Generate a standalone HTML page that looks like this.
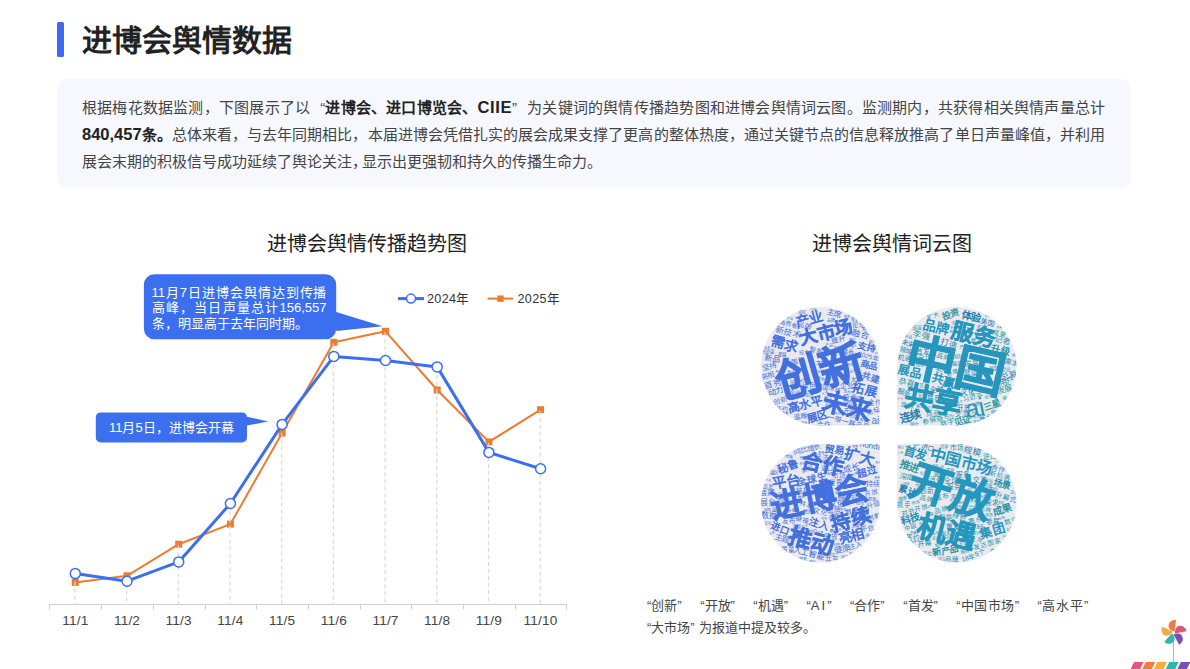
<!DOCTYPE html>
<html lang="zh-CN"><head><meta charset="utf-8">
<style>
*{margin:0;padding:0;box-sizing:border-box}
html,body{width:1190px;height:669px;overflow:hidden;background:#fff}
body{position:relative;font-family:"Liberation Sans",sans-serif;color:#333}
.lq{display:inline-block;width:15px;text-align:right;text-align-last:right}.rq{display:inline-block;width:15px;text-align:left;text-align-last:left}
.abs{position:absolute}
#bar{left:57px;top:21.5px;width:7px;height:35px;background:#3c6cf0;border-radius:1.5px}
#title{left:82px;top:20px;font-size:30px;font-weight:900;color:#222;line-height:42px;white-space:nowrap}
#box{left:57px;top:79px;width:1074px;height:109px;background:#f6f8fe;border-radius:11px}
#para{left:82px;top:94px;font-size:15px;line-height:27px;color:#444;white-space:nowrap}
#para b{color:#222}
.pj{width:1023px;text-align:justify;text-align-last:justify}
.lat{font-size:16.5px;line-height:1px}
.ct{font-size:20px;color:#222;white-space:nowrap;line-height:28px}
#ct1{left:267px;top:230px}
#ct2{left:812px;top:230px}
.sp{display:inline-block;width:18.5px}.sp2{display:inline-block;width:4px}
#note{left:647px;top:595px;font-size:13px;line-height:22px;color:#444;white-space:nowrap}
#co1{left:151.5px;top:285px;font-size:13px;line-height:15.3px;color:#fff;white-space:nowrap}
.jl{width:175px;text-align:justify;text-align-last:justify}
#co2{left:109px;top:419px;font-size:13px;line-height:18px;color:#fff;white-space:nowrap}
</style></head>
<body>
<div id="bar" class="abs"></div>
<div id="title" class="abs">进博会舆情数据</div>
<div id="box" class="abs"></div>
<div id="para" class="abs"><div class="pj">根据梅花数据监测，下图展示了以<span class="lq">“</span><b>进博会、进口博览会、<span class="lat" style="letter-spacing:0.6px">CIIE</span></b><span class="rq">”</span>为关键词的舆情传播趋势图和进博会舆情词云图。监测期内，共获得相关舆情声量总计</div><div class="pj"><b><span class="lat">840,457</span>条。</b>总体来看，与去年同期相比，本届进博会凭借扎实的展会成果支撑了更高的整体热度，通过关键节点的信息释放推高了单日声量峰值，并利用</div><div>展会末期的积极信号成功延续了舆论关注<span style="margin-right:-5px">，</span>显示出更强韧和持久的传播生命力。</div></div>
<div id="ct1" class="abs ct">进博会舆情传播趋势图</div>
<div id="ct2" class="abs ct">进博会舆情词云图</div>
<div id="note" class="abs">“创新”<span class="sp"></span>“开放”<span class="sp"></span>“机遇”<span class="sp"></span>“<span style="letter-spacing:2px">AI</span>”<span class="sp"></span>“合作”<span class="sp"></span>“首发”<span class="sp"></span>“<span style="letter-spacing:0.5px">中国市场</span>”<span class="sp"></span>“<span style="letter-spacing:1px">高水平</span>”<br>“大市场”<span class="sp2"></span>为报道中提及较多。</div>
<!--CHART-->
<svg class="abs" style="left:0;top:0" width="600" height="669" viewBox="0 0 600 669">
<line x1="49.4" y1="604.5" x2="566.4" y2="604.5" stroke="#cfcfcf" stroke-width="1"/>
<line x1="49.5" y1="604" x2="49.5" y2="609.5" stroke="#cfcfcf" stroke-width="1"/>
<line x1="101.5" y1="604" x2="101.5" y2="609.5" stroke="#cfcfcf" stroke-width="1"/>
<line x1="153.5" y1="604" x2="153.5" y2="609.5" stroke="#cfcfcf" stroke-width="1"/>
<line x1="205.5" y1="604" x2="205.5" y2="609.5" stroke="#cfcfcf" stroke-width="1"/>
<line x1="256.5" y1="604" x2="256.5" y2="609.5" stroke="#cfcfcf" stroke-width="1"/>
<line x1="308.5" y1="604" x2="308.5" y2="609.5" stroke="#cfcfcf" stroke-width="1"/>
<line x1="360.5" y1="604" x2="360.5" y2="609.5" stroke="#cfcfcf" stroke-width="1"/>
<line x1="411.5" y1="604" x2="411.5" y2="609.5" stroke="#cfcfcf" stroke-width="1"/>
<line x1="463.5" y1="604" x2="463.5" y2="609.5" stroke="#cfcfcf" stroke-width="1"/>
<line x1="515.5" y1="604" x2="515.5" y2="609.5" stroke="#cfcfcf" stroke-width="1"/>
<line x1="566.5" y1="604" x2="566.5" y2="609.5" stroke="#cfcfcf" stroke-width="1"/>
<text x="75.3" y="625" text-anchor="middle" font-size="13.6" letter-spacing="0.2" fill="#444">11/1</text>
<text x="127.0" y="625" text-anchor="middle" font-size="13.6" letter-spacing="0.2" fill="#444">11/2</text>
<text x="178.7" y="625" text-anchor="middle" font-size="13.6" letter-spacing="0.2" fill="#444">11/3</text>
<text x="230.4" y="625" text-anchor="middle" font-size="13.6" letter-spacing="0.2" fill="#444">11/4</text>
<text x="282.1" y="625" text-anchor="middle" font-size="13.6" letter-spacing="0.2" fill="#444">11/5</text>
<text x="333.8" y="625" text-anchor="middle" font-size="13.6" letter-spacing="0.2" fill="#444">11/6</text>
<text x="385.5" y="625" text-anchor="middle" font-size="13.6" letter-spacing="0.2" fill="#444">11/7</text>
<text x="437.2" y="625" text-anchor="middle" font-size="13.6" letter-spacing="0.2" fill="#444">11/8</text>
<text x="488.9" y="625" text-anchor="middle" font-size="13.6" letter-spacing="0.2" fill="#444">11/9</text>
<text x="540.6" y="625" text-anchor="middle" font-size="13.6" letter-spacing="0.2" fill="#444">11/10</text>
<polyline points="75.3,582.4 127.0,575.8 178.7,544.2 230.4,524.1 282.1,433.0 333.8,342.3 385.5,331.3 437.2,390.0 488.9,441.9 540.6,409.7" fill="none" stroke="#ec7c30" stroke-width="2" stroke-linejoin="round"/>
<rect x="71.8" y="578.9" width="7" height="7" fill="#ec7c30"/>
<rect x="123.5" y="572.3" width="7" height="7" fill="#ec7c30"/>
<rect x="175.2" y="540.7" width="7" height="7" fill="#ec7c30"/>
<rect x="226.9" y="520.6" width="7" height="7" fill="#ec7c30"/>
<rect x="278.6" y="429.5" width="7" height="7" fill="#ec7c30"/>
<rect x="330.3" y="338.8" width="7" height="7" fill="#ec7c30"/>
<rect x="382.0" y="327.8" width="7" height="7" fill="#ec7c30"/>
<rect x="433.7" y="386.5" width="7" height="7" fill="#ec7c30"/>
<rect x="485.4" y="438.4" width="7" height="7" fill="#ec7c30"/>
<rect x="537.1" y="406.2" width="7" height="7" fill="#ec7c30"/>
<line x1="74.9" y1="574.6" x2="74.9" y2="604" stroke="#d9d9d9" stroke-width="1.2" stroke-dasharray="4,3"/>
<line x1="126.6" y1="576.8" x2="126.6" y2="604" stroke="#d9d9d9" stroke-width="1.2" stroke-dasharray="4,3"/>
<line x1="178.3" y1="545.2" x2="178.3" y2="604" stroke="#d9d9d9" stroke-width="1.2" stroke-dasharray="4,3"/>
<line x1="230.0" y1="504.5" x2="230.0" y2="604" stroke="#d9d9d9" stroke-width="1.2" stroke-dasharray="4,3"/>
<line x1="281.7" y1="425.4" x2="281.7" y2="604" stroke="#d9d9d9" stroke-width="1.2" stroke-dasharray="4,3"/>
<line x1="333.4" y1="343.3" x2="333.4" y2="604" stroke="#d9d9d9" stroke-width="1.2" stroke-dasharray="4,3"/>
<line x1="385.1" y1="332.3" x2="385.1" y2="604" stroke="#d9d9d9" stroke-width="1.2" stroke-dasharray="4,3"/>
<line x1="436.8" y1="367.9" x2="436.8" y2="604" stroke="#d9d9d9" stroke-width="1.2" stroke-dasharray="4,3"/>
<line x1="488.5" y1="442.9" x2="488.5" y2="604" stroke="#d9d9d9" stroke-width="1.2" stroke-dasharray="4,3"/>
<line x1="540.2" y1="410.7" x2="540.2" y2="604" stroke="#d9d9d9" stroke-width="1.2" stroke-dasharray="4,3"/>
<polyline points="75.3,573.6 127.0,581.2 178.7,561.9 230.4,503.5 282.1,424.4 333.8,356.4 385.5,360.5 437.2,366.9 488.9,452.4 540.6,468.8" fill="none" stroke="#3c6ef0" stroke-width="3" stroke-linejoin="round"/>
<circle cx="75.3" cy="573.6" r="5" fill="#fff" stroke="#3c6ef0" stroke-width="1.5"/>
<circle cx="127.0" cy="581.2" r="5" fill="#fff" stroke="#3c6ef0" stroke-width="1.5"/>
<circle cx="178.7" cy="561.9" r="5" fill="#fff" stroke="#3c6ef0" stroke-width="1.5"/>
<circle cx="230.4" cy="503.5" r="5" fill="#fff" stroke="#3c6ef0" stroke-width="1.5"/>
<circle cx="282.1" cy="424.4" r="5" fill="#fff" stroke="#3c6ef0" stroke-width="1.5"/>
<circle cx="333.8" cy="356.4" r="5" fill="#fff" stroke="#3c6ef0" stroke-width="1.5"/>
<circle cx="385.5" cy="360.5" r="5" fill="#fff" stroke="#3c6ef0" stroke-width="1.5"/>
<circle cx="437.2" cy="366.9" r="5" fill="#fff" stroke="#3c6ef0" stroke-width="1.5"/>
<circle cx="488.9" cy="452.4" r="5" fill="#fff" stroke="#3c6ef0" stroke-width="1.5"/>
<circle cx="540.6" cy="468.8" r="5" fill="#fff" stroke="#3c6ef0" stroke-width="1.5"/>
<line x1="398" y1="298.6" x2="424" y2="298.6" stroke="#3c6ef0" stroke-width="3"/>
<circle cx="411" cy="298.6" r="4.5" fill="#fff" stroke="#3c6ef0" stroke-width="1.5"/>
<text x="427" y="303.2" font-size="12.6" letter-spacing="0.35" fill="#333">2024年</text>
<line x1="487.6" y1="298.6" x2="513" y2="298.6" stroke="#ec7c30" stroke-width="2"/>
<rect x="497.3" y="295.5" width="6.4" height="6.4" fill="#ec7c30"/>
<text x="517.5" y="303.2" font-size="12.6" letter-spacing="0.35" fill="#333">2025年</text>
<path d="M154.4,274.2 H325.7 A10.5,10.5 0 0 1 336.2,284.7 V312 L382.5,326.2 L336.2,331 V328.8 A10.5,10.5 0 0 1 325.7,339.3 H154.4 A10.5,10.5 0 0 1 143.9,328.8 V284.7 A10.5,10.5 0 0 1 154.4,274.2 Z" fill="#3c6ef0"/>
<path d="M100.8,412.4 H242 A5,5 0 0 1 247,417.4 V416.8 L268.2,421.5 L247,425.6 V437.4 A5,5 0 0 1 242,442.4 H100.8 A5,5 0 0 1 95.8,437.4 V417.4 A5,5 0 0 1 100.8,412.4 Z" fill="#3c6ef0"/>
</svg>
<div id="co1" class="abs"><div class="jl">11月7日进博会舆情达到传播</div><div class="jl">高峰，当日声量总计156,557</div><div>条，明显高于去年同时期。</div></div>
<div id="co2" class="abs">11月5日，进博会开幕</div>
<!--/CHART-->
<!--CLOUD-->
<svg class="abs" style="left:0;top:0" width="1190" height="669" viewBox="0 0 1190 669">
<defs>
<clipPath id="ctl"><path d="M820.35,307 H820.35 A59.35000000000002,59.35000000000002 0 0 1 879.7,366.35 V425.6 H820.35 A59.35000000000002,59.35000000000002 0 0 1 761,366.25 V366.35 A59.35000000000002,59.35000000000002 0 0 1 820.35,307 Z"/></clipPath>
<clipPath id="ctr"><path d="M956.85,307 H956.85 A59.64999999999998,59.64999999999998 0 0 1 1016.5,366.65 V365.95000000000005 A59.64999999999998,59.64999999999998 0 0 1 956.85,425.6 H897.2 V366.65 A59.64999999999998,59.64999999999998 0 0 1 956.85,307 Z"/></clipPath>
<clipPath id="cbl"><path d="M820.35,443.9 H879.7 V503.15 A59.35000000000002,59.35000000000002 0 0 1 820.35,562.5 H820.35 A59.35000000000002,59.35000000000002 0 0 1 761,503.15 V503.25 A59.35000000000002,59.35000000000002 0 0 1 820.35,443.9 Z"/></clipPath>
<clipPath id="cbr"><path d="M897.2,443.9 H956.85 A59.64999999999998,59.64999999999998 0 0 1 1016.5,503.54999999999995 V502.85 A59.64999999999998,59.64999999999998 0 0 1 956.85,562.5 H956.85 A59.64999999999998,59.64999999999998 0 0 1 897.2,502.85 V443.9 Z"/></clipPath>
</defs>
<path d="M820.35,307 H820.35 A59.35000000000002,59.35000000000002 0 0 1 879.7,366.35 V425.6 H820.35 A59.35000000000002,59.35000000000002 0 0 1 761,366.25 V366.35 A59.35000000000002,59.35000000000002 0 0 1 820.35,307 Z" fill="#eaeaee"/>
<g clip-path="url(#ctl)" font-family="Liberation Sans, sans-serif">
<text x="873.5" y="410.5" font-size="6.5" fill="#3564d4" text-anchor="middle" dominant-baseline="central" transform="rotate(-15 873.5 410.5)">论坛</text>
<text x="816.5" y="350.5" font-size="6.5" fill="#3d6cdc" text-anchor="middle" dominant-baseline="central" transform="rotate(15 816.5 350.5)">智能</text>
<text x="823.5" y="424.5" font-size="6.5" fill="#4a76de" text-anchor="middle" dominant-baseline="central" transform="rotate(0 823.5 424.5)">合作</text>
<text x="798.5" y="360.5" font-size="6.5" fill="#3564d4" text-anchor="middle" dominant-baseline="central" transform="rotate(-15 798.5 360.5)">国际</text>
<text x="874.5" y="402.5" font-size="6.5" fill="#5079dc" text-anchor="middle" dominant-baseline="central" transform="rotate(0 874.5 402.5)">合作</text>
<text x="808.5" y="385.5" font-size="6.5" fill="#4a76de" text-anchor="middle" dominant-baseline="central" transform="rotate(0 808.5 385.5)">绿色</text>
<text x="849.5" y="397.5" font-size="6.5" fill="#3564d4" text-anchor="middle" dominant-baseline="central" transform="rotate(0 849.5 397.5)">投资</text>
<text x="862.5" y="424.5" font-size="6.5" fill="#5079dc" text-anchor="middle" dominant-baseline="central" transform="rotate(0 862.5 424.5)">产品</text>
<text x="846.5" y="385.5" font-size="6.5" fill="#3d6cdc" text-anchor="middle" dominant-baseline="central" transform="rotate(0 846.5 385.5)">企业</text>
<text x="858.5" y="324.5" font-size="6.5" fill="#3d6cdc" text-anchor="middle" dominant-baseline="central" transform="rotate(0 858.5 324.5)">论坛</text>
<text x="781.5" y="408.5" font-size="6" fill="#5079dc" text-anchor="middle" dominant-baseline="central" transform="rotate(0 781.5 408.5)">签约</text>
<text x="847.5" y="351.5" font-size="6" fill="#3d6cdc" text-anchor="middle" dominant-baseline="central" transform="rotate(0 847.5 351.5)">展商</text>
<text x="820.5" y="361.5" font-size="5" fill="#3564d4" text-anchor="middle" dominant-baseline="central" transform="rotate(0 820.5 361.5)">文化</text>
<text x="803.5" y="351.5" font-size="5" fill="#3d6cdc" text-anchor="middle" dominant-baseline="central" transform="rotate(0 803.5 351.5)">技术</text>
<text x="848.5" y="409.5" font-size="5" fill="#3d6cdc" text-anchor="middle" dominant-baseline="central" transform="rotate(0 848.5 409.5)">开放</text>
<text x="794.5" y="391.5" font-size="5" fill="#5079dc" text-anchor="middle" dominant-baseline="central" transform="rotate(0 794.5 391.5)">全球</text>
<text x="855.5" y="378.5" font-size="5" fill="#5079dc" text-anchor="middle" dominant-baseline="central" transform="rotate(0 855.5 378.5)">发展</text>
<text x="790.5" y="372.5" font-size="4.5" fill="#4a76de" text-anchor="middle" dominant-baseline="central" transform="rotate(0 790.5 372.5)">数字</text>
<text x="767.5" y="351.5" font-size="4.5" fill="#5079dc" text-anchor="middle" dominant-baseline="central" transform="rotate(0 767.5 351.5)">高质量</text>
<text x="847.5" y="402.5" font-size="4.5" fill="#4a76de" text-anchor="middle" dominant-baseline="central" transform="rotate(0 847.5 402.5)">绿色</text>
<text x="781.5" y="354.5" font-size="4.5" fill="#3564d4" text-anchor="middle" dominant-baseline="central" transform="rotate(0 781.5 354.5)">参展</text>
<text x="793.5" y="382.5" font-size="4.5" fill="#5079dc" text-anchor="middle" dominant-baseline="central" transform="rotate(0 793.5 382.5)">链接</text>
<text x="827.5" y="398.5" font-size="4.5" fill="#3d6cdc" text-anchor="middle" dominant-baseline="central" transform="rotate(0 827.5 398.5)">数字</text>
<text x="801.5" y="312.5" font-size="4" fill="#4a76de" text-anchor="middle" dominant-baseline="central" transform="rotate(0 801.5 312.5)">展区</text>
<text x="847.5" y="391.5" font-size="4" fill="#4a76de" text-anchor="middle" dominant-baseline="central" transform="rotate(15 847.5 391.5)">签约</text>
<text x="872.5" y="341.5" font-size="4" fill="#5079dc" text-anchor="middle" dominant-baseline="central" transform="rotate(-15 872.5 341.5)">展区</text>
<text x="853.5" y="417.5" font-size="4" fill="#4a76de" text-anchor="middle" dominant-baseline="central" transform="rotate(0 853.5 417.5)">中国</text>
<text x="821.5" y="378.5" font-size="4" fill="#4a76de" text-anchor="middle" dominant-baseline="central" transform="rotate(15 821.5 378.5)">智能</text>
<text x="828.5" y="404.5" font-size="4" fill="#4a76de" text-anchor="middle" dominant-baseline="central" transform="rotate(0 828.5 404.5)">发展</text>
<text x="828.5" y="345.5" font-size="4" fill="#4a76de" text-anchor="middle" dominant-baseline="central" transform="rotate(0 828.5 345.5)">产品</text>
<text x="854.5" y="319.5" font-size="4" fill="#3d6cdc" text-anchor="middle" dominant-baseline="central" transform="rotate(0 854.5 319.5)">展会</text>
<text x="830.5" y="320.5" font-size="4" fill="#3564d4" text-anchor="middle" dominant-baseline="central" transform="rotate(0 830.5 320.5)">品牌</text>
<text x="808.5" y="395.5" font-size="4" fill="#3564d4" text-anchor="middle" dominant-baseline="central" transform="rotate(0 808.5 395.5)">进口</text>
<text x="851.5" y="339.5" font-size="3.5" fill="#4a76de" text-anchor="middle" dominant-baseline="central" transform="rotate(0 851.5 339.5)">签约</text>
<text x="803.5" y="422.5" font-size="3.5" fill="#5079dc" text-anchor="middle" dominant-baseline="central" transform="rotate(0 803.5 422.5)">平台</text>
<text x="846.5" y="316.5" font-size="3.5" fill="#3d6cdc" text-anchor="middle" dominant-baseline="central" transform="rotate(0 846.5 316.5)">技术</text>
<text x="802.5" y="380.5" font-size="3" fill="#3d6cdc" text-anchor="middle" dominant-baseline="central" transform="rotate(-15 802.5 380.5)">智能</text>
<text x="852.5" y="371.5" font-size="3" fill="#4a76de" text-anchor="middle" dominant-baseline="central" transform="rotate(-15 852.5 371.5)">投资</text>
<text x="865.5" y="329.5" font-size="3" fill="#3d6cdc" text-anchor="middle" dominant-baseline="central" transform="rotate(15 865.5 329.5)">服务</text>
<text x="778.5" y="371.5" font-size="3" fill="#3d6cdc" text-anchor="middle" dominant-baseline="central" transform="rotate(15 778.5 371.5)">亮点</text>
<text x="862.5" y="419.5" font-size="3" fill="#3564d4" text-anchor="middle" dominant-baseline="central" transform="rotate(0 862.5 419.5)">亮点</text>
<text x="858.5" y="397.5" font-size="3" fill="#3d6cdc" text-anchor="middle" dominant-baseline="central" transform="rotate(15 858.5 397.5)">金额</text>
<text x="850.5" y="364.5" font-size="3" fill="#4a76de" text-anchor="middle" dominant-baseline="central" transform="rotate(15 850.5 364.5)">参展</text>
<text x="824.5" y="393.5" font-size="3" fill="#4a76de" text-anchor="middle" dominant-baseline="central" transform="rotate(-15 824.5 393.5)">全球</text>
<text x="836.5" y="347.5" font-size="3" fill="#4a76de" text-anchor="middle" dominant-baseline="central" transform="rotate(0 836.5 347.5)">智能</text>
<text x="785.5" y="413.5" font-size="3" fill="#3564d4" text-anchor="middle" dominant-baseline="central" transform="rotate(15 785.5 413.5)">品牌</text>
<text x="820.5" y="371.5" font-size="3" fill="#3d6cdc" text-anchor="middle" dominant-baseline="central" transform="rotate(-15 820.5 371.5)">需求</text>
<text x="837.5" y="413.5" font-size="3" fill="#3564d4" text-anchor="middle" dominant-baseline="central" transform="rotate(15 837.5 413.5)">交流</text>
<text x="813.5" y="309.5" font-size="3" fill="#3d6cdc" text-anchor="middle" dominant-baseline="central" transform="rotate(15 813.5 309.5)">论坛</text>
<text x="877.5" y="353.5" font-size="3" fill="#4a76de" text-anchor="middle" dominant-baseline="central" transform="rotate(15 877.5 353.5)">开放</text>
<text x="853.5" y="346.5" font-size="3" fill="#3d6cdc" text-anchor="middle" dominant-baseline="central" transform="rotate(-15 853.5 346.5)">展台</text>
<text x="789.5" y="318.5" font-size="3" fill="#3d6cdc" text-anchor="middle" dominant-baseline="central" transform="rotate(0 789.5 318.5)">产品</text>
<text x="766.5" y="347.5" font-size="3" fill="#4a76de" text-anchor="middle" dominant-baseline="central" transform="rotate(0 766.5 347.5)">经济</text>
<text x="819.6" y="372.0" font-size="45" fill="#4270df" font-weight="bold" stroke="#4270df" stroke-width="0.90" text-anchor="middle" dominant-baseline="central" transform="rotate(-16 819.6 372.0)">创新</text>
<text x="825.8" y="332.6" font-size="18" fill="#4270df" font-weight="bold" stroke="#4270df" stroke-width="0.36" text-anchor="middle" dominant-baseline="central" transform="rotate(-14 825.8 332.6)">大市场</text>
<text x="847.2" y="406.1" font-size="25" fill="#4270df" font-weight="bold" stroke="#4270df" stroke-width="0.50" text-anchor="middle" dominant-baseline="central" transform="rotate(13.5 847.2 406.1)">未来</text>
<text x="808.8" y="319.4" font-size="14.5" fill="#4270df" font-weight="bold" text-anchor="middle" dominant-baseline="central" transform="rotate(-15 808.8 319.4)">产业</text>
<text x="784.6" y="344.2" font-size="14" fill="#4270df" font-weight="bold" text-anchor="middle" dominant-baseline="central" transform="rotate(15 784.6 344.2)">需求</text>
<text x="804.9" y="404.2" font-size="12" fill="#4270df" font-weight="bold" text-anchor="middle" dominant-baseline="central" transform="rotate(-15 804.9 404.2)">高水平</text>
<text x="864.9" y="390.3" font-size="12.5" fill="#4270df" font-weight="bold" text-anchor="middle" dominant-baseline="central" transform="rotate(14 864.9 390.3)">拓展</text>
<text x="817.4" y="416.1" font-size="11" fill="#4270df" font-weight="bold" text-anchor="middle" dominant-baseline="central" transform="rotate(-15 817.4 416.1)">展区</text>
<text x="834.0" y="314.0" font-size="8" fill="#3d6cdc" text-anchor="middle" dominant-baseline="central" transform="rotate(15 834.0 314.0)">主席</text>
<text x="788.6" y="332.2" font-size="8.5" fill="#5079dc" text-anchor="middle" dominant-baseline="central" transform="rotate(15 788.6 332.2)">新技术</text>
<text x="860.6" y="334.6" font-size="8.5" fill="#3564d4" text-anchor="middle" dominant-baseline="central" transform="rotate(15 860.6 334.6)">融合</text>
<text x="866.3" y="347.5" font-size="9" fill="#4270df" font-weight="bold" text-anchor="middle" dominant-baseline="central" transform="rotate(15 866.3 347.5)">支持</text>
<text x="869.0" y="365.0" font-size="9" fill="#4a76de" font-weight="bold" text-anchor="middle" dominant-baseline="central" transform="rotate(15 869.0 365.0)">商品</text>
<text x="870.6" y="377.9" font-size="9" fill="#5079dc" font-weight="bold" text-anchor="middle" dominant-baseline="central" transform="rotate(15 870.6 377.9)">共建</text>
<text x="772.2" y="358.5" font-size="8" fill="#3564d4" text-anchor="middle" dominant-baseline="central" transform="rotate(10 772.2 358.5)">新品</text>
<text x="769.5" y="366.5" font-size="7.5" fill="#4270df" text-anchor="middle" dominant-baseline="central" transform="rotate(-15 769.5 366.5)">坚持</text>
<text x="773.0" y="384.1" font-size="8.5" fill="#4a76de" text-anchor="middle" dominant-baseline="central" transform="rotate(-15 773.0 384.1)">首秀</text>
<text x="775.7" y="391.8" font-size="8" fill="#3564d4" text-anchor="middle" dominant-baseline="central" transform="rotate(-15 775.7 391.8)">动力</text>
<text x="780.2" y="400.4" font-size="7" fill="#5079dc" text-anchor="middle" dominant-baseline="central" transform="rotate(-15 780.2 400.4)">创新</text>
<text x="875.4" y="420.0" font-size="10" fill="#5079dc" text-anchor="middle" dominant-baseline="central" transform="rotate(0 875.4 420.0)">ai</text>
<text x="841.4" y="420.5" font-size="7" fill="#3564d4" text-anchor="middle" dominant-baseline="central" transform="rotate(15 841.4 420.5)">一带一路</text>
<text x="838.6" y="339.9" font-size="7" fill="#3564d4" text-anchor="middle" dominant-baseline="central" transform="rotate(-15 838.6 339.9)">提升</text>
<text x="788.6" y="324.1" font-size="6" fill="#5079dc" text-anchor="middle" dominant-baseline="central" transform="rotate(15 788.6 324.1)">消费者</text>
<text x="804.4" y="325.2" font-size="7" fill="#4a76de" text-anchor="middle" dominant-baseline="central" transform="rotate(15 804.4 325.2)">品牌</text>
<text x="868.7" y="356.2" font-size="6.5" fill="#4270df" text-anchor="middle" dominant-baseline="central" transform="rotate(15 868.7 356.2)">2025年</text>
<text x="828.5" y="388.4" font-size="6" fill="#3d6cdc" text-anchor="middle" dominant-baseline="central" transform="rotate(15 828.5 388.4)">中国市场</text>
<text x="800.1" y="416.6" font-size="7" fill="#4270df" text-anchor="middle" dominant-baseline="central" transform="rotate(-10 800.1 416.6)">温暖</text>
<text x="767.8" y="375.5" font-size="7" fill="#4a76de" text-anchor="middle" dominant-baseline="central" transform="rotate(-15 767.8 375.5)">亮相</text>
</g>
<path d="M956.85,307 H956.85 A59.64999999999998,59.64999999999998 0 0 1 1016.5,366.65 V365.95000000000005 A59.64999999999998,59.64999999999998 0 0 1 956.85,425.6 H897.2 V366.65 A59.64999999999998,59.64999999999998 0 0 1 956.85,307 Z" fill="#eaeaee"/>
<g clip-path="url(#ctr)" font-family="Liberation Sans, sans-serif">
<text x="985.5" y="417.5" font-size="6.5" fill="#1f80b0" text-anchor="middle" dominant-baseline="central" transform="rotate(0 985.5 417.5)">展台</text>
<text x="922.5" y="351.5" font-size="6.5" fill="#2a94a8" text-anchor="middle" dominant-baseline="central" transform="rotate(0 922.5 351.5)">首发</text>
<text x="943.5" y="356.5" font-size="6.5" fill="#2089b0" text-anchor="middle" dominant-baseline="central" transform="rotate(15 943.5 356.5)">品牌</text>
<text x="970.5" y="372.5" font-size="6.5" fill="#2089b0" text-anchor="middle" dominant-baseline="central" transform="rotate(0 970.5 372.5)">健康</text>
<text x="907.5" y="405.5" font-size="6.5" fill="#3099a0" text-anchor="middle" dominant-baseline="central" transform="rotate(15 907.5 405.5)">世界</text>
<text x="961.5" y="413.5" font-size="6.5" fill="#2089b0" text-anchor="middle" dominant-baseline="central" transform="rotate(0 961.5 413.5)">交流</text>
<text x="933.5" y="398.5" font-size="6.5" fill="#2089b0" text-anchor="middle" dominant-baseline="central" transform="rotate(0 933.5 398.5)">展商</text>
<text x="971.5" y="363.5" font-size="6.5" fill="#3099a0" text-anchor="middle" dominant-baseline="central" transform="rotate(0 971.5 363.5)">发展</text>
<text x="967.5" y="391.5" font-size="6.5" fill="#1f80b0" text-anchor="middle" dominant-baseline="central" transform="rotate(0 967.5 391.5)">文化</text>
<text x="963.5" y="407.5" font-size="6.5" fill="#2089b0" text-anchor="middle" dominant-baseline="central" transform="rotate(0 963.5 407.5)">开放</text>
<text x="924.5" y="357.5" font-size="6.5" fill="#2a94a8" text-anchor="middle" dominant-baseline="central" transform="rotate(0 924.5 357.5)">全球</text>
<text x="936.5" y="389.5" font-size="6.5" fill="#1f80b0" text-anchor="middle" dominant-baseline="central" transform="rotate(0 936.5 389.5)">全球</text>
<text x="952.5" y="372.5" font-size="5.5" fill="#2089b0" text-anchor="middle" dominant-baseline="central" transform="rotate(-15 952.5 372.5)">链接</text>
<text x="957.5" y="355.5" font-size="5" fill="#2a94a8" text-anchor="middle" dominant-baseline="central" transform="rotate(0 957.5 355.5)">国际</text>
<text x="993.5" y="367.5" font-size="5" fill="#1f80b0" text-anchor="middle" dominant-baseline="central" transform="rotate(0 993.5 367.5)">展区</text>
<text x="948.5" y="415.5" font-size="5" fill="#3099a0" text-anchor="middle" dominant-baseline="central" transform="rotate(0 948.5 415.5)">签约</text>
<text x="956.5" y="362.5" font-size="5" fill="#1f80b0" text-anchor="middle" dominant-baseline="central" transform="rotate(0 956.5 362.5)">展商</text>
<text x="975.5" y="339.5" font-size="5" fill="#2a94a8" text-anchor="middle" dominant-baseline="central" transform="rotate(0 975.5 339.5)">数字</text>
<text x="923.5" y="384.5" font-size="5" fill="#3099a0" text-anchor="middle" dominant-baseline="central" transform="rotate(0 923.5 384.5)">首发</text>
<text x="916.5" y="326.5" font-size="5" fill="#2a94a8" text-anchor="middle" dominant-baseline="central" transform="rotate(0 916.5 326.5)">链接</text>
<text x="963.5" y="346.5" font-size="4.5" fill="#1f80b0" text-anchor="middle" dominant-baseline="central" transform="rotate(-15 963.5 346.5)">产品</text>
<text x="975.5" y="404.5" font-size="4.5" fill="#2a94a8" text-anchor="middle" dominant-baseline="central" transform="rotate(-15 975.5 404.5)">消费</text>
<text x="1005.5" y="369.5" font-size="4.5" fill="#2a94a8" text-anchor="middle" dominant-baseline="central" transform="rotate(0 1005.5 369.5)">企业</text>
<text x="939.5" y="370.5" font-size="4.5" fill="#3099a0" text-anchor="middle" dominant-baseline="central" transform="rotate(-15 939.5 370.5)">进口</text>
<text x="913.5" y="424.5" font-size="4.5" fill="#2089b0" text-anchor="middle" dominant-baseline="central" transform="rotate(0 913.5 424.5)">展会</text>
<text x="994.5" y="412.5" font-size="4.5" fill="#1f80b0" text-anchor="middle" dominant-baseline="central" transform="rotate(0 994.5 412.5)">健康</text>
<text x="955.5" y="322.5" font-size="4.5" fill="#1f80b0" text-anchor="middle" dominant-baseline="central" transform="rotate(-15 955.5 322.5)">论坛</text>
<text x="1006.5" y="398.5" font-size="4.5" fill="#3099a0" text-anchor="middle" dominant-baseline="central" transform="rotate(15 1006.5 398.5)">展会</text>
<text x="921.5" y="396.5" font-size="4" fill="#2a94a8" text-anchor="middle" dominant-baseline="central" transform="rotate(0 921.5 396.5)">发展</text>
<text x="988.5" y="396.5" font-size="4" fill="#2a94a8" text-anchor="middle" dominant-baseline="central" transform="rotate(-15 988.5 396.5)">经济</text>
<text x="930.5" y="407.5" font-size="4" fill="#2a94a8" text-anchor="middle" dominant-baseline="central" transform="rotate(-15 930.5 407.5)">交流</text>
<text x="980.5" y="327.5" font-size="4" fill="#2a94a8" text-anchor="middle" dominant-baseline="central" transform="rotate(0 980.5 327.5)">新品</text>
<text x="919.5" y="406.5" font-size="4" fill="#2a94a8" text-anchor="middle" dominant-baseline="central" transform="rotate(0 919.5 406.5)">需求</text>
<text x="908.5" y="336.5" font-size="4" fill="#1f80b0" text-anchor="middle" dominant-baseline="central" transform="rotate(15 908.5 336.5)">新品</text>
<text x="919.5" y="365.5" font-size="4" fill="#1f80b0" text-anchor="middle" dominant-baseline="central" transform="rotate(0 919.5 365.5)">绿色</text>
<text x="1014.5" y="355.5" font-size="3.5" fill="#2089b0" text-anchor="middle" dominant-baseline="central" transform="rotate(-15 1014.5 355.5)">消费</text>
<text x="900.5" y="398.5" font-size="3" fill="#3099a0" text-anchor="middle" dominant-baseline="central" transform="rotate(15 900.5 398.5)">企业</text>
<text x="976.5" y="417.5" font-size="3" fill="#3099a0" text-anchor="middle" dominant-baseline="central" transform="rotate(-15 976.5 417.5)">交流</text>
<text x="999.5" y="327.5" font-size="3" fill="#2089b0" text-anchor="middle" dominant-baseline="central" transform="rotate(15 999.5 327.5)">共享</text>
<text x="981.5" y="346.5" font-size="3" fill="#3099a0" text-anchor="middle" dominant-baseline="central" transform="rotate(-15 981.5 346.5)">需求</text>
<text x="976.5" y="421.5" font-size="3" fill="#2a94a8" text-anchor="middle" dominant-baseline="central" transform="rotate(15 976.5 421.5)">首发</text>
<text x="973.5" y="412.5" font-size="3" fill="#3099a0" text-anchor="middle" dominant-baseline="central" transform="rotate(0 973.5 412.5)">企业</text>
<text x="959.5" y="402.5" font-size="3" fill="#2a94a8" text-anchor="middle" dominant-baseline="central" transform="rotate(-15 959.5 402.5)">数字</text>
<text x="987.5" y="316.5" font-size="3" fill="#1f80b0" text-anchor="middle" dominant-baseline="central" transform="rotate(-15 987.5 316.5)">产品</text>
<text x="953.5" y="327.5" font-size="3" fill="#3099a0" text-anchor="middle" dominant-baseline="central" transform="rotate(15 953.5 327.5)">发布</text>
<text x="952.5" y="331.5" font-size="3" fill="#2089b0" text-anchor="middle" dominant-baseline="central" transform="rotate(15 952.5 331.5)">发布</text>
<text x="956.0" y="366.8" font-size="50" fill="#2596be" font-weight="bold" stroke="#2596be" stroke-width="1.00" text-anchor="middle" dominant-baseline="central" transform="rotate(13 956.0 366.8)">中国</text>
<text x="973.6" y="335.0" font-size="22" fill="#2596be" font-weight="bold" stroke="#2596be" stroke-width="0.44" text-anchor="middle" dominant-baseline="central" transform="rotate(14 973.6 335.0)">服务</text>
<text x="933.2" y="400.5" font-size="29" fill="#2596be" font-weight="bold" stroke="#2596be" stroke-width="0.58" text-anchor="middle" dominant-baseline="central" transform="rotate(11 933.2 400.5)">共享</text>
<text x="974.6" y="407.5" font-size="25" fill="#2596be" text-anchor="middle" dominant-baseline="central" transform="rotate(-12 974.6 407.5)">ai</text>
<text x="935.7" y="327.4" font-size="13.5" fill="#2596be" font-weight="bold" text-anchor="middle" dominant-baseline="central" transform="rotate(12 935.7 327.4)">品牌</text>
<text x="971.3" y="316.4" font-size="10.5" fill="#1f80b0" font-weight="bold" text-anchor="middle" dominant-baseline="central" transform="rotate(12 971.3 316.4)">体验</text>
<text x="950.5" y="314.5" font-size="9" fill="#3099a0" font-weight="bold" text-anchor="middle" dominant-baseline="central" transform="rotate(-15 950.5 314.5)">投资</text>
<text x="909.8" y="371.7" font-size="12" fill="#2596be" font-weight="bold" text-anchor="middle" dominant-baseline="central" transform="rotate(12 909.8 371.7)">展品</text>
<text x="943.3" y="380.7" font-size="12" fill="#2596be" font-weight="bold" text-anchor="middle" dominant-baseline="central" transform="rotate(15 943.3 380.7)">共赢</text>
<text x="1000.9" y="350.0" font-size="9.5" fill="#3099a0" font-weight="bold" text-anchor="middle" dominant-baseline="central" transform="rotate(15 1000.9 350.0)">升级</text>
<text x="910.3" y="416.2" font-size="11.5" fill="#1f80b0" font-weight="bold" text-anchor="middle" dominant-baseline="central" transform="rotate(-15 910.3 416.2)">连续</text>
<text x="992.3" y="404.7" font-size="9" fill="#3099a0" font-weight="bold" text-anchor="middle" dominant-baseline="central" transform="rotate(-20 992.3 404.7)">三星</text>
<text x="949.1" y="343.7" font-size="8.5" fill="#1f80b0" text-anchor="middle" dominant-baseline="central" transform="rotate(15 949.1 343.7)">打造</text>
<text x="921.8" y="335.6" font-size="8.5" fill="#2a94a8" text-anchor="middle" dominant-baseline="central" transform="rotate(15 921.8 335.6)">李强</text>
<text x="962.7" y="421.0" font-size="9" fill="#3099a0" font-weight="bold" text-anchor="middle" dominant-baseline="central" transform="rotate(-15 962.7 421.0)">见证</text>
<text x="947.6" y="422.4" font-size="7" fill="#2596be" text-anchor="middle" dominant-baseline="central" transform="rotate(-15 947.6 422.4)">数字</text>
<text x="932.8" y="420.0" font-size="7" fill="#3099a0" text-anchor="middle" dominant-baseline="central" transform="rotate(-15 932.8 420.0)">参展商</text>
<text x="1002.4" y="340.4" font-size="8" fill="#3099a0" text-anchor="middle" dominant-baseline="central" transform="rotate(15 1002.4 340.4)">记者</text>
<text x="987.5" y="322.7" font-size="7" fill="#1f80b0" text-anchor="middle" dominant-baseline="central" transform="rotate(15 987.5 322.7)">美国</text>
<text x="1006.7" y="381.7" font-size="8" fill="#2089b0" text-anchor="middle" dominant-baseline="central" transform="rotate(-15 1006.7 381.7)">用户</text>
<text x="1004.8" y="389.8" font-size="8" fill="#3099a0" text-anchor="middle" dominant-baseline="central" transform="rotate(-15 1004.8 389.8)">发展</text>
<text x="1009.5" y="375.5" font-size="8" fill="#1f80b0" text-anchor="middle" dominant-baseline="central" transform="rotate(-15 1009.5 375.5)">总裁</text>
<text x="1011.5" y="362.4" font-size="7" fill="#2089b0" text-anchor="middle" dominant-baseline="central" transform="rotate(15 1011.5 362.4)">需求</text>
<text x="972.7" y="397.0" font-size="7" fill="#3099a0" text-anchor="middle" dominant-baseline="central" transform="rotate(-15 972.7 397.0)">习近平</text>
<text x="904.1" y="392.2" font-size="7" fill="#1f80b0" text-anchor="middle" dominant-baseline="central" transform="rotate(15 904.1 392.2)">服务</text>
<text x="906.5" y="382.2" font-size="8" fill="#3099a0" text-anchor="middle" dominant-baseline="central" transform="rotate(15 906.5 382.2)">恭喜</text>
<text x="904.6" y="358.0" font-size="7" fill="#2089b0" text-anchor="middle" dominant-baseline="central" transform="rotate(15 904.6 358.0)">机遇</text>
<text x="906.0" y="350.9" font-size="7" fill="#2089b0" text-anchor="middle" dominant-baseline="central" transform="rotate(15 906.0 350.9)">领域</text>
<text x="908.1" y="343.2" font-size="7" fill="#1f80b0" text-anchor="middle" dominant-baseline="central" transform="rotate(15 908.1 343.2)">未来</text>
<text x="933.3" y="316.0" font-size="6" fill="#1f80b0" text-anchor="middle" dominant-baseline="central" transform="rotate(-20 933.3 316.0)">扩大</text>
<text x="999.5" y="333.2" font-size="6.5" fill="#3099a0" text-anchor="middle" dominant-baseline="central" transform="rotate(15 999.5 333.2)">成果</text>
<text x="932.8" y="413.3" font-size="6.5" fill="#2a94a8" text-anchor="middle" dominant-baseline="central" transform="rotate(0 932.8 413.3)">商品</text>
</g>
<path d="M820.35,443.9 H879.7 V503.15 A59.35000000000002,59.35000000000002 0 0 1 820.35,562.5 H820.35 A59.35000000000002,59.35000000000002 0 0 1 761,503.15 V503.25 A59.35000000000002,59.35000000000002 0 0 1 820.35,443.9 Z" fill="#eaeaee"/>
<g clip-path="url(#cbl)" font-family="Liberation Sans, sans-serif">
<text x="802.5" y="519.5" font-size="6.5" fill="#3564d4" text-anchor="middle" dominant-baseline="central" transform="rotate(15 802.5 519.5)">链接</text>
<text x="838.5" y="475.5" font-size="6.5" fill="#5079dc" text-anchor="middle" dominant-baseline="central" transform="rotate(0 838.5 475.5)">市场</text>
<text x="820.5" y="511.5" font-size="6.5" fill="#5079dc" text-anchor="middle" dominant-baseline="central" transform="rotate(15 820.5 511.5)">文化</text>
<text x="806.5" y="504.5" font-size="6.5" fill="#3564d4" text-anchor="middle" dominant-baseline="central" transform="rotate(15 806.5 504.5)">共享</text>
<text x="833.5" y="509.5" font-size="6.5" fill="#5079dc" text-anchor="middle" dominant-baseline="central" transform="rotate(0 833.5 509.5)">品牌</text>
<text x="788.5" y="520.5" font-size="6.5" fill="#4a76de" text-anchor="middle" dominant-baseline="central" transform="rotate(0 788.5 520.5)">发布</text>
<text x="852.5" y="510.5" font-size="6.5" fill="#3d6cdc" text-anchor="middle" dominant-baseline="central" transform="rotate(-15 852.5 510.5)">数字</text>
<text x="871.5" y="492.5" font-size="6.5" fill="#4a76de" text-anchor="middle" dominant-baseline="central" transform="rotate(-15 871.5 492.5)">开放</text>
<text x="874.5" y="516.5" font-size="6.5" fill="#3564d4" text-anchor="middle" dominant-baseline="central" transform="rotate(-15 874.5 516.5)">创新</text>
<text x="836.5" y="503.5" font-size="6.5" fill="#3564d4" text-anchor="middle" dominant-baseline="central" transform="rotate(0 836.5 503.5)">文化</text>
<text x="835.5" y="482.5" font-size="6.5" fill="#3564d4" text-anchor="middle" dominant-baseline="central" transform="rotate(0 835.5 482.5)">世界</text>
<text x="802.5" y="490.5" font-size="6.5" fill="#4a76de" text-anchor="middle" dominant-baseline="central" transform="rotate(0 802.5 490.5)">链接</text>
<text x="821.5" y="457.5" font-size="6.5" fill="#4a76de" text-anchor="middle" dominant-baseline="central" transform="rotate(0 821.5 457.5)">经济</text>
<text x="831.5" y="559.5" font-size="6.5" fill="#3d6cdc" text-anchor="middle" dominant-baseline="central" transform="rotate(0 831.5 559.5)">共享</text>
<text x="787.5" y="549.5" font-size="6.5" fill="#3d6cdc" text-anchor="middle" dominant-baseline="central" transform="rotate(0 787.5 549.5)">质量</text>
<text x="830.5" y="536.5" font-size="6.5" fill="#5079dc" text-anchor="middle" dominant-baseline="central" transform="rotate(0 830.5 536.5)">开放</text>
<text x="833.5" y="515.5" font-size="6" fill="#5079dc" text-anchor="middle" dominant-baseline="central" transform="rotate(0 833.5 515.5)">消费</text>
<text x="826.5" y="467.5" font-size="6" fill="#3564d4" text-anchor="middle" dominant-baseline="central" transform="rotate(0 826.5 467.5)">进口</text>
<text x="807.5" y="469.5" font-size="6" fill="#4a76de" text-anchor="middle" dominant-baseline="central" transform="rotate(-15 807.5 469.5)">新品</text>
<text x="767.5" y="485.5" font-size="5" fill="#5079dc" text-anchor="middle" dominant-baseline="central" transform="rotate(0 767.5 485.5)">首发</text>
<text x="812.5" y="531.5" font-size="4.5" fill="#3d6cdc" text-anchor="middle" dominant-baseline="central" transform="rotate(-15 812.5 531.5)">签约</text>
<text x="833.5" y="530.5" font-size="4.5" fill="#3d6cdc" text-anchor="middle" dominant-baseline="central" transform="rotate(-15 833.5 530.5)">亮点</text>
<text x="840.5" y="498.5" font-size="4.5" fill="#3d6cdc" text-anchor="middle" dominant-baseline="central" transform="rotate(0 840.5 498.5)">金额</text>
<text x="775.5" y="509.5" font-size="4.5" fill="#5079dc" text-anchor="middle" dominant-baseline="central" transform="rotate(0 775.5 509.5)">展会</text>
<text x="796.5" y="526.5" font-size="4.5" fill="#3564d4" text-anchor="middle" dominant-baseline="central" transform="rotate(0 796.5 526.5)">创新</text>
<text x="773.5" y="472.5" font-size="4.5" fill="#3564d4" text-anchor="middle" dominant-baseline="central" transform="rotate(0 773.5 472.5)">展区</text>
<text x="788.5" y="456.5" font-size="4.5" fill="#3564d4" text-anchor="middle" dominant-baseline="central" transform="rotate(15 788.5 456.5)">市场</text>
<text x="803.5" y="458.5" font-size="4.5" fill="#3d6cdc" text-anchor="middle" dominant-baseline="central" transform="rotate(15 803.5 458.5)">市场</text>
<text x="844.5" y="557.5" font-size="4.5" fill="#3d6cdc" text-anchor="middle" dominant-baseline="central" transform="rotate(0 844.5 557.5)">展商</text>
<text x="806.5" y="511.5" font-size="4.5" fill="#3d6cdc" text-anchor="middle" dominant-baseline="central" transform="rotate(0 806.5 511.5)">经济</text>
<text x="767.5" y="523.5" font-size="4" fill="#4a76de" text-anchor="middle" dominant-baseline="central" transform="rotate(0 767.5 523.5)">论坛</text>
<text x="791.5" y="510.5" font-size="4" fill="#5079dc" text-anchor="middle" dominant-baseline="central" transform="rotate(-15 791.5 510.5)">质量</text>
<text x="802.5" y="559.5" font-size="4" fill="#3564d4" text-anchor="middle" dominant-baseline="central" transform="rotate(0 802.5 559.5)">服务</text>
<text x="854.5" y="526.5" font-size="4" fill="#3d6cdc" text-anchor="middle" dominant-baseline="central" transform="rotate(0 854.5 526.5)">上海</text>
<text x="780.5" y="500.5" font-size="4" fill="#4a76de" text-anchor="middle" dominant-baseline="central" transform="rotate(0 780.5 500.5)">智能</text>
<text x="859.5" y="503.5" font-size="4" fill="#3564d4" text-anchor="middle" dominant-baseline="central" transform="rotate(0 859.5 503.5)">绿色</text>
<text x="801.5" y="496.5" font-size="4" fill="#3564d4" text-anchor="middle" dominant-baseline="central" transform="rotate(-15 801.5 496.5)">参展</text>
<text x="869.5" y="535.5" font-size="4" fill="#3564d4" text-anchor="middle" dominant-baseline="central" transform="rotate(15 869.5 535.5)">进口</text>
<text x="854.5" y="497.5" font-size="4" fill="#3d6cdc" text-anchor="middle" dominant-baseline="central" transform="rotate(0 854.5 497.5)">签约</text>
<text x="871.5" y="499.5" font-size="4" fill="#4a76de" text-anchor="middle" dominant-baseline="central" transform="rotate(0 871.5 499.5)">健康</text>
<text x="811.5" y="561.5" font-size="3.5" fill="#5079dc" text-anchor="middle" dominant-baseline="central" transform="rotate(0 811.5 561.5)">签约</text>
<text x="766.5" y="509.5" font-size="3.5" fill="#5079dc" text-anchor="middle" dominant-baseline="central" transform="rotate(0 766.5 509.5)">品牌</text>
<text x="855.5" y="446.5" font-size="3" fill="#3564d4" text-anchor="middle" dominant-baseline="central" transform="rotate(15 855.5 446.5)">绿色</text>
<text x="821.5" y="452.5" font-size="3" fill="#3d6cdc" text-anchor="middle" dominant-baseline="central" transform="rotate(15 821.5 452.5)">首发</text>
<text x="824.5" y="518.5" font-size="3" fill="#5079dc" text-anchor="middle" dominant-baseline="central" transform="rotate(15 824.5 518.5)">智能</text>
<text x="780.5" y="493.5" font-size="3" fill="#3d6cdc" text-anchor="middle" dominant-baseline="central" transform="rotate(15 780.5 493.5)">论坛</text>
<text x="854.5" y="474.5" font-size="3" fill="#3d6cdc" text-anchor="middle" dominant-baseline="central" transform="rotate(-15 854.5 474.5)">世界</text>
<text x="811.5" y="541.5" font-size="3" fill="#3d6cdc" text-anchor="middle" dominant-baseline="central" transform="rotate(-15 811.5 541.5)">服务</text>
<text x="839.5" y="458.5" font-size="3" fill="#4a76de" text-anchor="middle" dominant-baseline="central" transform="rotate(-15 839.5 458.5)">消费</text>
<text x="802.5" y="463.5" font-size="3" fill="#4a76de" text-anchor="middle" dominant-baseline="central" transform="rotate(15 802.5 463.5)">展商</text>
<text x="768.5" y="480.5" font-size="3" fill="#5079dc" text-anchor="middle" dominant-baseline="central" transform="rotate(15 768.5 480.5)">产品</text>
<text x="842.5" y="509.5" font-size="3" fill="#3564d4" text-anchor="middle" dominant-baseline="central" transform="rotate(0 842.5 509.5)">共享</text>
<text x="841.5" y="529.5" font-size="3" fill="#4a76de" text-anchor="middle" dominant-baseline="central" transform="rotate(-15 841.5 529.5)">数字</text>
<text x="837.5" y="492.5" font-size="3" fill="#3d6cdc" text-anchor="middle" dominant-baseline="central" transform="rotate(0 837.5 492.5)">品牌</text>
<text x="877.5" y="477.5" font-size="3" fill="#3564d4" text-anchor="middle" dominant-baseline="central" transform="rotate(15 877.5 477.5)">发展</text>
<text x="852.5" y="553.5" font-size="3" fill="#5079dc" text-anchor="middle" dominant-baseline="central" transform="rotate(15 852.5 553.5)">服务</text>
<text x="820.5" y="532.5" font-size="3" fill="#5079dc" text-anchor="middle" dominant-baseline="central" transform="rotate(15 820.5 532.5)">世界</text>
<text x="829.5" y="473.5" font-size="3" fill="#5079dc" text-anchor="middle" dominant-baseline="central" transform="rotate(0 829.5 473.5)">金额</text>
<text x="878.5" y="462.5" font-size="3" fill="#5079dc" text-anchor="middle" dominant-baseline="central" transform="rotate(15 878.5 462.5)">参展</text>
<text x="804.5" y="526.5" font-size="3" fill="#5079dc" text-anchor="middle" dominant-baseline="central" transform="rotate(-15 804.5 526.5)">交流</text>
<text x="836.5" y="544.5" font-size="3" fill="#3d6cdc" text-anchor="middle" dominant-baseline="central" transform="rotate(0 836.5 544.5)">绿色</text>
<text x="831.5" y="554.5" font-size="3" fill="#3d6cdc" text-anchor="middle" dominant-baseline="central" transform="rotate(0 831.5 554.5)">首发</text>
<text x="771.5" y="533.5" font-size="3" fill="#4a76de" text-anchor="middle" dominant-baseline="central" transform="rotate(-15 771.5 533.5)">全球</text>
<text x="819.5" y="497.5" font-size="33" fill="#4270df" font-weight="bold" stroke="#4270df" stroke-width="0.66" text-anchor="middle" dominant-baseline="central" transform="rotate(-12 819.5 497.5)">进博会</text>
<text x="822.6" y="464.1" font-size="21" fill="#4270df" font-weight="bold" stroke="#4270df" stroke-width="0.42" text-anchor="middle" dominant-baseline="central" transform="rotate(13 822.6 464.1)">合作</text>
<text x="811.1" y="540.9" font-size="23" fill="#4270df" font-weight="bold" stroke="#4270df" stroke-width="0.46" text-anchor="middle" dominant-baseline="central" transform="rotate(15 811.1 540.9)">推动</text>
<text x="850.9" y="519.6" font-size="20" fill="#4270df" font-weight="bold" stroke="#4270df" stroke-width="0.40" text-anchor="middle" dominant-baseline="central" transform="rotate(-15 850.9 519.6)">持续</text>
<text x="859.9" y="457.0" font-size="15.5" fill="#4270df" font-weight="bold" text-anchor="middle" dominant-baseline="central" transform="rotate(15 859.9 457.0)">扩大</text>
<text x="786.1" y="481.6" font-size="14.5" fill="#4270df" font-weight="bold" text-anchor="middle" dominant-baseline="central" transform="rotate(-11 786.1 481.6)">平台</text>
<text x="851.0" y="536.7" font-size="13.5" fill="#4270df" font-weight="bold" text-anchor="middle" dominant-baseline="central" transform="rotate(-15 851.0 536.7)">亮相</text>
<text x="788.0" y="466.0" font-size="11" fill="#4270df" font-weight="bold" text-anchor="middle" dominant-baseline="central" transform="rotate(-20 788.0 466.0)">秘鲁</text>
<text x="834.7" y="450.0" font-size="10" fill="#4270df" font-weight="bold" text-anchor="middle" dominant-baseline="central" transform="rotate(10 834.7 450.0)">贸易</text>
<text x="851.5" y="468.1" font-size="8.5" fill="#4270df" text-anchor="middle" dominant-baseline="central" transform="rotate(-15 851.5 468.1)">成长</text>
<text x="867.0" y="471.9" font-size="10" fill="#4270df" font-weight="bold" text-anchor="middle" dominant-baseline="central" transform="rotate(-15 867.0 471.9)">超过</text>
<text x="812.0" y="479.0" font-size="9.5" fill="#5079dc" font-weight="bold" text-anchor="middle" dominant-baseline="central" transform="rotate(-15 812.0 479.0)">全球生</text>
<text x="806.9" y="449.2" font-size="7.5" fill="#4a76de" text-anchor="middle" dominant-baseline="central" transform="rotate(-15 806.9 449.2)">同比增长</text>
<text x="871.0" y="446.0" font-size="8" fill="#4270df" text-anchor="middle" dominant-baseline="central" transform="rotate(10 871.0 446.0)">honda</text>
<text x="819.0" y="524.0" font-size="10" fill="#3d6cdc" font-weight="bold" text-anchor="middle" dominant-baseline="central" transform="rotate(20 819.0 524.0)">注入</text>
<text x="780.2" y="528.6" font-size="9.5" fill="#3d6cdc" font-weight="bold" text-anchor="middle" dominant-baseline="central" transform="rotate(20 780.2 528.6)">进口</text>
<text x="782.0" y="538.8" font-size="8" fill="#4270df" text-anchor="middle" dominant-baseline="central" transform="rotate(15 782.0 538.8)">主题</text>
<text x="808.8" y="554.0" font-size="8" fill="#3564d4" text-anchor="middle" dominant-baseline="central" transform="rotate(15 808.8 554.0)">人工智能</text>
<text x="842.6" y="549.0" font-size="8.5" fill="#5079dc" text-anchor="middle" dominant-baseline="central" transform="rotate(-15 842.6 549.0)">健康</text>
<text x="873.0" y="505.0" font-size="7" fill="#4a76de" text-anchor="middle" dominant-baseline="central" transform="rotate(-15 873.0 505.0)">升级</text>
<text x="867.5" y="528.2" font-size="7" fill="#4270df" text-anchor="middle" dominant-baseline="central" transform="rotate(-15 867.5 528.2)">平台</text>
<text x="855.5" y="545.7" font-size="7" fill="#4a76de" text-anchor="middle" dominant-baseline="central" transform="rotate(-15 855.5 545.7)">注入</text>
<text x="769.0" y="515.3" font-size="8" fill="#3d6cdc" text-anchor="middle" dominant-baseline="central" transform="rotate(0 769.0 515.3)">数据</text>
<text x="768.0" y="502.8" font-size="8" fill="#5079dc" text-anchor="middle" dominant-baseline="central" transform="rotate(0 768.0 502.8)">展台</text>
<text x="767.2" y="492.0" font-size="8" fill="#5079dc" text-anchor="middle" dominant-baseline="central" transform="rotate(0 767.2 492.0)">展商</text>
<text x="873.0" y="483.4" font-size="7" fill="#5079dc" text-anchor="middle" dominant-baseline="central" transform="rotate(0 873.0 483.4)">持续</text>
</g>
<path d="M897.2,443.9 H956.85 A59.64999999999998,59.64999999999998 0 0 1 1016.5,503.54999999999995 V502.85 A59.64999999999998,59.64999999999998 0 0 1 956.85,562.5 H956.85 A59.64999999999998,59.64999999999998 0 0 1 897.2,502.85 V443.9 Z" fill="#eaeaee"/>
<g clip-path="url(#cbr)" font-family="Liberation Sans, sans-serif">
<text x="941.5" y="509.5" font-size="6.5" fill="#3099a0" text-anchor="middle" dominant-baseline="central" transform="rotate(-15 941.5 509.5)">品牌</text>
<text x="959.5" y="516.5" font-size="6.5" fill="#2089b0" text-anchor="middle" dominant-baseline="central" transform="rotate(15 959.5 516.5)">绿色</text>
<text x="942.5" y="496.5" font-size="6.5" fill="#3099a0" text-anchor="middle" dominant-baseline="central" transform="rotate(-15 942.5 496.5)">发布</text>
<text x="950.5" y="480.5" font-size="6.5" fill="#3099a0" text-anchor="middle" dominant-baseline="central" transform="rotate(0 950.5 480.5)">全球</text>
<text x="926.5" y="498.5" font-size="6.5" fill="#3099a0" text-anchor="middle" dominant-baseline="central" transform="rotate(15 926.5 498.5)">品牌</text>
<text x="956.5" y="447.5" font-size="6.5" fill="#2a94a8" text-anchor="middle" dominant-baseline="central" transform="rotate(0 956.5 447.5)">市场</text>
<text x="975.5" y="519.5" font-size="6.5" fill="#2089b0" text-anchor="middle" dominant-baseline="central" transform="rotate(-15 975.5 519.5)">亮点</text>
<text x="912.5" y="537.5" font-size="6.5" fill="#2089b0" text-anchor="middle" dominant-baseline="central" transform="rotate(0 912.5 537.5)">签约</text>
<text x="979.5" y="479.5" font-size="6.5" fill="#1f80b0" text-anchor="middle" dominant-baseline="central" transform="rotate(0 979.5 479.5)">交流</text>
<text x="989.5" y="456.5" font-size="6.5" fill="#3099a0" text-anchor="middle" dominant-baseline="central" transform="rotate(0 989.5 456.5)">进口</text>
<text x="991.5" y="502.5" font-size="6.5" fill="#2089b0" text-anchor="middle" dominant-baseline="central" transform="rotate(0 991.5 502.5)">需求</text>
<text x="935.5" y="479.5" font-size="6.5" fill="#3099a0" text-anchor="middle" dominant-baseline="central" transform="rotate(0 935.5 479.5)">消费</text>
<text x="1011.5" y="520.5" font-size="6.5" fill="#2a94a8" text-anchor="middle" dominant-baseline="central" transform="rotate(-15 1011.5 520.5)">数字</text>
<text x="926.5" y="490.5" font-size="6.5" fill="#2a94a8" text-anchor="middle" dominant-baseline="central" transform="rotate(0 926.5 490.5)">创新</text>
<text x="953.5" y="486.5" font-size="6.5" fill="#1f80b0" text-anchor="middle" dominant-baseline="central" transform="rotate(0 953.5 486.5)">服务</text>
<text x="951.5" y="559.5" font-size="6.5" fill="#2089b0" text-anchor="middle" dominant-baseline="central" transform="rotate(0 951.5 559.5)">品牌</text>
<text x="952.5" y="526.5" font-size="6.5" fill="#1f80b0" text-anchor="middle" dominant-baseline="central" transform="rotate(0 952.5 526.5)">首发</text>
<text x="945.5" y="517.5" font-size="6.5" fill="#2a94a8" text-anchor="middle" dominant-baseline="central" transform="rotate(0 945.5 517.5)">智能</text>
<text x="962.5" y="474.5" font-size="6.5" fill="#1f80b0" text-anchor="middle" dominant-baseline="central" transform="rotate(0 962.5 474.5)">服务</text>
<text x="992.5" y="521.5" font-size="6.5" fill="#1f80b0" text-anchor="middle" dominant-baseline="central" transform="rotate(0 992.5 521.5)">参展</text>
<text x="985.5" y="509.5" font-size="5.5" fill="#2a94a8" text-anchor="middle" dominant-baseline="central" transform="rotate(15 985.5 509.5)">品牌</text>
<text x="955.5" y="495.5" font-size="5" fill="#1f80b0" text-anchor="middle" dominant-baseline="central" transform="rotate(0 955.5 495.5)">需求</text>
<text x="945.5" y="532.5" font-size="5" fill="#2089b0" text-anchor="middle" dominant-baseline="central" transform="rotate(0 945.5 532.5)">服务</text>
<text x="972.5" y="506.5" font-size="5" fill="#2089b0" text-anchor="middle" dominant-baseline="central" transform="rotate(0 972.5 506.5)">合作</text>
<text x="994.5" y="549.5" font-size="5" fill="#2a94a8" text-anchor="middle" dominant-baseline="central" transform="rotate(0 994.5 549.5)">中国</text>
<text x="976.5" y="538.5" font-size="5" fill="#3099a0" text-anchor="middle" dominant-baseline="central" transform="rotate(0 976.5 538.5)">上海</text>
<text x="926.5" y="552.5" font-size="5" fill="#3099a0" text-anchor="middle" dominant-baseline="central" transform="rotate(0 926.5 552.5)">展会</text>
<text x="937.5" y="474.5" font-size="4.5" fill="#2089b0" text-anchor="middle" dominant-baseline="central" transform="rotate(0 937.5 474.5)">健康</text>
<text x="902.5" y="498.5" font-size="4.5" fill="#2a94a8" text-anchor="middle" dominant-baseline="central" transform="rotate(-15 902.5 498.5)">健康</text>
<text x="949.5" y="470.5" font-size="4.5" fill="#1f80b0" text-anchor="middle" dominant-baseline="central" transform="rotate(0 949.5 470.5)">首发</text>
<text x="964.5" y="551.5" font-size="4.5" fill="#3099a0" text-anchor="middle" dominant-baseline="central" transform="rotate(-15 964.5 551.5)">服务</text>
<text x="938.5" y="544.5" font-size="4.5" fill="#3099a0" text-anchor="middle" dominant-baseline="central" transform="rotate(-15 938.5 544.5)">金额</text>
<text x="987.5" y="485.5" font-size="4.5" fill="#2089b0" text-anchor="middle" dominant-baseline="central" transform="rotate(0 987.5 485.5)">首发</text>
<text x="918.5" y="484.5" font-size="4.5" fill="#1f80b0" text-anchor="middle" dominant-baseline="central" transform="rotate(0 918.5 484.5)">市场</text>
<text x="992.5" y="489.5" font-size="4.5" fill="#2089b0" text-anchor="middle" dominant-baseline="central" transform="rotate(0 992.5 489.5)">签约</text>
<text x="929.5" y="513.5" font-size="4.5" fill="#3099a0" text-anchor="middle" dominant-baseline="central" transform="rotate(15 929.5 513.5)">展会</text>
<text x="979.5" y="526.5" font-size="4.5" fill="#2089b0" text-anchor="middle" dominant-baseline="central" transform="rotate(0 979.5 526.5)">发布</text>
<text x="943.5" y="446.5" font-size="4.5" fill="#2a94a8" text-anchor="middle" dominant-baseline="central" transform="rotate(0 943.5 446.5)">共享</text>
<text x="988.5" y="515.5" font-size="4" fill="#3099a0" text-anchor="middle" dominant-baseline="central" transform="rotate(0 988.5 515.5)">世界</text>
<text x="1014.5" y="492.5" font-size="4" fill="#2089b0" text-anchor="middle" dominant-baseline="central" transform="rotate(15 1014.5 492.5)">交流</text>
<text x="1009.5" y="528.5" font-size="4" fill="#2089b0" text-anchor="middle" dominant-baseline="central" transform="rotate(-15 1009.5 528.5)">上海</text>
<text x="1005.5" y="537.5" font-size="4" fill="#3099a0" text-anchor="middle" dominant-baseline="central" transform="rotate(0 1005.5 537.5)">产品</text>
<text x="915.5" y="502.5" font-size="4" fill="#2a94a8" text-anchor="middle" dominant-baseline="central" transform="rotate(-15 915.5 502.5)">市场</text>
<text x="989.5" y="480.5" font-size="4" fill="#1f80b0" text-anchor="middle" dominant-baseline="central" transform="rotate(15 989.5 480.5)">论坛</text>
<text x="923.5" y="472.5" font-size="4" fill="#1f80b0" text-anchor="middle" dominant-baseline="central" transform="rotate(-15 923.5 472.5)">企业</text>
<text x="941.5" y="559.5" font-size="4" fill="#2a94a8" text-anchor="middle" dominant-baseline="central" transform="rotate(0 941.5 559.5)">成交</text>
<text x="935.5" y="538.5" font-size="4" fill="#2089b0" text-anchor="middle" dominant-baseline="central" transform="rotate(0 935.5 538.5)">企业</text>
<text x="976.5" y="533.5" font-size="4" fill="#2a94a8" text-anchor="middle" dominant-baseline="central" transform="rotate(0 976.5 533.5)">签约</text>
<text x="905.5" y="483.5" font-size="3.5" fill="#2a94a8" text-anchor="middle" dominant-baseline="central" transform="rotate(0 905.5 483.5)">国际</text>
<text x="900.5" y="447.5" font-size="3.5" fill="#2089b0" text-anchor="middle" dominant-baseline="central" transform="rotate(15 900.5 447.5)">进口</text>
<text x="969.5" y="489.5" font-size="3.5" fill="#3099a0" text-anchor="middle" dominant-baseline="central" transform="rotate(0 969.5 489.5)">成交</text>
<text x="948.5" y="537.5" font-size="3" fill="#1f80b0" text-anchor="middle" dominant-baseline="central" transform="rotate(0 948.5 537.5)">企业</text>
<text x="958.5" y="506.5" font-size="3" fill="#1f80b0" text-anchor="middle" dominant-baseline="central" transform="rotate(15 958.5 506.5)">链接</text>
<text x="916.5" y="445.5" font-size="3" fill="#3099a0" text-anchor="middle" dominant-baseline="central" transform="rotate(-15 916.5 445.5)">展台</text>
<text x="921.5" y="523.5" font-size="3" fill="#1f80b0" text-anchor="middle" dominant-baseline="central" transform="rotate(-15 921.5 523.5)">进口</text>
<text x="962.5" y="543.5" font-size="3" fill="#3099a0" text-anchor="middle" dominant-baseline="central" transform="rotate(15 962.5 543.5)">展台</text>
<text x="935.5" y="533.5" font-size="3" fill="#3099a0" text-anchor="middle" dominant-baseline="central" transform="rotate(-15 935.5 533.5)">智能</text>
<text x="1000.5" y="502.5" font-size="3" fill="#1f80b0" text-anchor="middle" dominant-baseline="central" transform="rotate(0 1000.5 502.5)">贸易</text>
<text x="1001.5" y="518.5" font-size="3" fill="#3099a0" text-anchor="middle" dominant-baseline="central" transform="rotate(-15 1001.5 518.5)">贸易</text>
<text x="930.5" y="506.5" font-size="3" fill="#3099a0" text-anchor="middle" dominant-baseline="central" transform="rotate(-15 930.5 506.5)">贸易</text>
<text x="983.5" y="496.5" font-size="3" fill="#2089b0" text-anchor="middle" dominant-baseline="central" transform="rotate(-15 983.5 496.5)">金额</text>
<text x="997.5" y="461.5" font-size="3" fill="#2089b0" text-anchor="middle" dominant-baseline="central" transform="rotate(-15 997.5 461.5)">上海</text>
<text x="940.5" y="467.5" font-size="3" fill="#2a94a8" text-anchor="middle" dominant-baseline="central" transform="rotate(-15 940.5 467.5)">中国</text>
<text x="961.5" y="502.5" font-size="3" fill="#2089b0" text-anchor="middle" dominant-baseline="central" transform="rotate(15 961.5 502.5)">国际</text>
<text x="952.5" y="500.5" font-size="3" fill="#1f80b0" text-anchor="middle" dominant-baseline="central" transform="rotate(-15 952.5 500.5)">交流</text>
<text x="913.5" y="532.5" font-size="3" fill="#1f80b0" text-anchor="middle" dominant-baseline="central" transform="rotate(15 913.5 532.5)">质量</text>
<text x="913.5" y="542.5" font-size="3" fill="#1f80b0" text-anchor="middle" dominant-baseline="central" transform="rotate(-15 913.5 542.5)">需求</text>
<text x="973.5" y="501.5" font-size="3" fill="#2089b0" text-anchor="middle" dominant-baseline="central" transform="rotate(15 973.5 501.5)">数字</text>
<text x="934.5" y="465.5" font-size="3" fill="#1f80b0" text-anchor="middle" dominant-baseline="central" transform="rotate(0 934.5 465.5)">中国</text>
<text x="900.5" y="452.5" font-size="3" fill="#2a94a8" text-anchor="middle" dominant-baseline="central" transform="rotate(15 900.5 452.5)">上海</text>
<text x="951.5" y="492.0" font-size="43" fill="#2596be" font-weight="bold" stroke="#2596be" stroke-width="0.86" text-anchor="middle" dominant-baseline="central" transform="rotate(18 951.5 492.0)">开放</text>
<text x="946.4" y="532.0" font-size="30" fill="#2596be" font-weight="bold" stroke="#2596be" stroke-width="0.60" text-anchor="middle" dominant-baseline="central" transform="rotate(14 946.4 532.0)">机遇</text>
<text x="960.9" y="461.7" font-size="16" fill="#2596be" font-weight="bold" text-anchor="middle" dominant-baseline="central" transform="rotate(14.5 960.9 461.7)">中国市场</text>
<text x="915.2" y="453.5" font-size="12" fill="#2596be" font-weight="bold" text-anchor="middle" dominant-baseline="central" transform="rotate(17 915.2 453.5)">首发</text>
<text x="992.4" y="531.6" font-size="12.5" fill="#2596be" font-weight="bold" text-anchor="middle" dominant-baseline="central" transform="rotate(-17 992.4 531.6)">集团</text>
<text x="1002.4" y="510.0" font-size="10" fill="#2a94a8" font-weight="bold" text-anchor="middle" dominant-baseline="central" transform="rotate(-17 1002.4 510.0)">成果</text>
<text x="945.3" y="550.7" font-size="9" fill="#2a94a8" font-weight="bold" text-anchor="middle" dominant-baseline="central" transform="rotate(-12 945.3 550.7)">新产品</text>
<text x="909.6" y="466.3" font-size="10.5" fill="#3099a0" font-weight="bold" text-anchor="middle" dominant-baseline="central" transform="rotate(17 909.6 466.3)">推进</text>
<text x="910.4" y="518.7" font-size="10" fill="#2089b0" font-weight="bold" text-anchor="middle" dominant-baseline="central" transform="rotate(-15 910.4 518.7)">科技</text>
<text x="907.5" y="490.7" font-size="9" fill="#1f80b0" font-weight="bold" text-anchor="middle" dominant-baseline="central" transform="rotate(15 907.5 490.7)">累计</text>
<text x="972.3" y="451.2" font-size="8.5" fill="#1f80b0" text-anchor="middle" dominant-baseline="central" transform="rotate(15 972.3 451.2)">规模</text>
<text x="1002.1" y="484.0" font-size="9" fill="#2a94a8" font-weight="bold" text-anchor="middle" dominant-baseline="central" transform="rotate(15 1002.1 484.0)">场景</text>
<text x="906.5" y="477.0" font-size="7.5" fill="#3099a0" text-anchor="middle" dominant-baseline="central" transform="rotate(15 906.5 477.0)">深度</text>
<text x="914.7" y="509.6" font-size="6.5" fill="#2a94a8" text-anchor="middle" dominant-baseline="central" transform="rotate(-15 914.7 509.6)">对外开放</text>
<text x="924.2" y="543.5" font-size="7" fill="#2089b0" text-anchor="middle" dominant-baseline="central" transform="rotate(-10 924.2 543.5)">开幕</text>
<text x="987.1" y="543.5" font-size="6.5" fill="#2a94a8" text-anchor="middle" dominant-baseline="central" transform="rotate(-15 987.1 543.5)">发达国家</text>
<text x="980.1" y="552.6" font-size="6.5" fill="#1f80b0" text-anchor="middle" dominant-baseline="central" transform="rotate(-15 980.1 552.6)">5个</text>
<text x="968.4" y="557.4" font-size="6.5" fill="#2089b0" text-anchor="middle" dominant-baseline="central" transform="rotate(-15 968.4 557.4)">18年</text>
<text x="1005.8" y="497.4" font-size="7" fill="#2596be" text-anchor="middle" dominant-baseline="central" transform="rotate(15 1005.8 497.4)">升幕式</text>
<text x="998.6" y="468.7" font-size="6.5" fill="#1f80b0" text-anchor="middle" dominant-baseline="central" transform="rotate(15 998.6 468.7)">合作</text>
<text x="1000.2" y="475.4" font-size="6.5" fill="#2596be" text-anchor="middle" dominant-baseline="central" transform="rotate(15 1000.2 475.4)">新机遇</text>
<text x="910.5" y="527.3" font-size="6" fill="#2089b0" text-anchor="middle" dominant-baseline="central" transform="rotate(-15 910.5 527.3)">中国</text>
<text x="928.0" y="447.7" font-size="6.5" fill="#1f80b0" text-anchor="middle" dominant-baseline="central" transform="rotate(15 928.0 447.7)">进口</text>
<text x="903.8" y="504.8" font-size="6.5" fill="#2596be" text-anchor="middle" dominant-baseline="central" transform="rotate(0 903.8 504.8)">携手</text>
</g>
</svg>
<!--/CLOUD-->
<!--LOGO-->
<svg class="abs" style="left:1100px;top:600px" width="90" height="69" viewBox="1100 600 90 69">
<line x1="1173.5" y1="636" x2="1173.5" y2="662.5" stroke="#7ccac2" stroke-width="1"/>
<path d="M1,-1.2 L2.4,-12.6 C-0.3,-13.5 -5,-11.5 -5.1,-6.8 C-5,-3.8 -2.2,-1.8 1,-1.2 Z" fill="#ef7b46" transform="translate(1173.6 632.9) rotate(0)"/>
<path d="M1,-1.2 L2.4,-12.6 C-0.3,-13.5 -5,-11.5 -5.1,-6.8 C-5,-3.8 -2.2,-1.8 1,-1.2 Z" fill="#e4527c" transform="translate(1173.6 632.9) rotate(72)"/>
<path d="M1,-1.2 L2.4,-12.6 C-0.3,-13.5 -5,-11.5 -5.1,-6.8 C-5,-3.8 -2.2,-1.8 1,-1.2 Z" fill="#7b4fb5" transform="translate(1173.6 632.9) rotate(144)"/>
<path d="M1,-1.2 L2.4,-12.6 C-0.3,-13.5 -5,-11.5 -5.1,-6.8 C-5,-3.8 -2.2,-1.8 1,-1.2 Z" fill="#2fb6b4" transform="translate(1173.6 632.9) rotate(216)"/>
<path d="M1,-1.2 L2.4,-12.6 C-0.3,-13.5 -5,-11.5 -5.1,-6.8 C-5,-3.8 -2.2,-1.8 1,-1.2 Z" fill="#f6a844" transform="translate(1173.6 632.9) rotate(288)"/>
<path d="M1134.1,662.1 H1143.5 L1140.1,669 H1130.7 Z" fill="#e8527e"/>
<path d="M1145.8,662.1 H1155.2 L1151.8,669 H1142.4 Z" fill="#f07c3c"/>
<path d="M1157.5,662.1 H1166.9 L1163.5,669 H1154.1 Z" fill="#f7a93d"/>
<path d="M1169.2,662.1 H1178.6 L1175.2,669 H1165.8 Z" fill="#2bb7b0"/>
<path d="M1180.9,662.1 H1190.3 L1186.9,669 H1177.5 Z" fill="#7a4fb0"/>
</svg>
<!--/LOGO-->
</body></html>
